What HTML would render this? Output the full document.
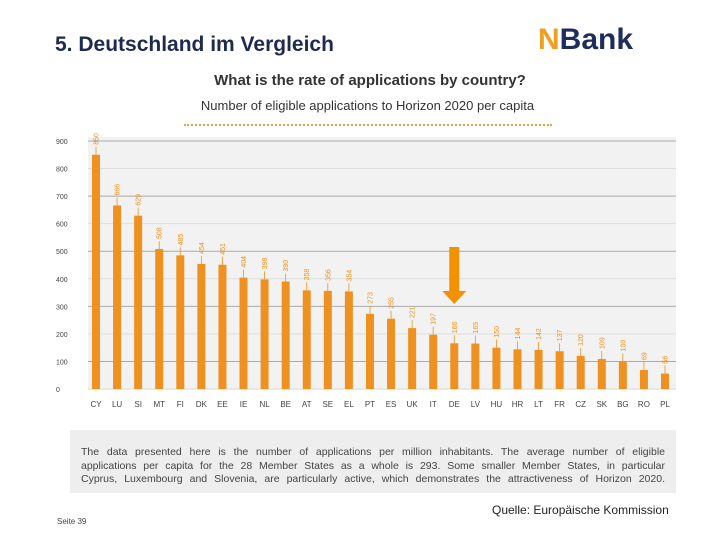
<!DOCTYPE html>
<html><head><meta charset="utf-8"><style>
body{margin:0;width:720px;height:540px;background:#fff;font-family:"Liberation Sans",sans-serif;position:relative;overflow:hidden}
.abs{position:absolute}
.dl{text-align:justify;text-align-last:justify;height:13.5px;white-space:nowrap}
</style></head><body>
<div class="abs" style="left:55px;top:33px;font-size:21px;font-weight:bold;color:#1f2a4f">5. Deutschland im Vergleich</div>
<div class="abs" style="left:538px;top:23px;font-size:30px;font-weight:bold"><span style="color:#f0a020">N</span><span style="color:#1e2d5a">Bank</span></div>
<div class="abs" style="left:0;width:740px;text-align:center;top:72px;font-size:15px;font-weight:bold;color:#333">What is the rate of applications by country?</div>
<div class="abs" style="left:0;width:735px;text-align:center;top:98px;font-size:13px;color:#333">Number of eligible applications to Horizon 2020 per capita</div>
<div class="abs" style="left:184px;top:124px;width:368px;border-top:2px dotted #e8a040"></div>
<svg class="abs" style="left:0;top:0" width="720" height="540">
<rect x="88" y="137" width="588" height="253" fill="#f2f2f2"/>
<g id="g"></g>
</svg>
<div class="abs" style="left:70px;top:430px;width:606px;height:63px;background:#eeeeee"></div>
<div class="abs" style="left:81px;top:446px;width:584px;font-size:10.5px;line-height:13.5px;color:#444">
<div class="dl">The data presented here is the number of applications per million inhabitants. The average number of eligible</div>
<div class="dl">applications per capita for the 28 Member States as a whole is 293. Some smaller Member States, in particular</div>
<div class="dl">Cyprus, Luxembourg and Slovenia, are particularly active, which demonstrates the attractiveness of Horizon 2020.</div>
</div>
<div class="abs" style="left:492px;top:503px;font-size:12px;color:#222">Quelle: Europäische Kommission</div>
<div class="abs" style="left:57px;top:517px;font-size:8px;color:#444">Seite 39</div>
<script>
const categories=["CY","LU","SI","MT","FI","DK","EE","IE","NL","BE","AT","SE","EL","PT","ES","UK","IT","DE","LV","HU","HR","LT","FR","CZ","SK","BG","RO","PL"];
const values=[850,666,629,508,485,454,451,404,398,390,358,356,354,273,255,221,197,166,165,150,144,142,137,120,109,100,69,56];
const yTicks=[0,100,200,300,400,500,600,700,800,900];
const g=document.getElementById('g');const NS='http://www.w3.org/2000/svg';
const y0=389,pxPer=(389-141)/900;
const y=v=>y0-v*pxPer;
const x=i=>96+i*(665-96)/27;
function mk(t,a){const e=document.createElementNS(NS,t);for(const k in a)e.setAttribute(k,a[k]);g.appendChild(e);return e;}
yTicks.forEach((t,i)=>{
 const l=mk('line',{x1:88,x2:676,y1:y(t),y2:y(t),stroke:i%2?'#aaa':'#ddd','stroke-width':1});
 
 
 const tx=mk('text',{x:56,y:y(t)+3,'font-size':7,fill:'#444','font-family':'Liberation Sans'});
 tx.textContent=t;
 
 
});
categories.forEach((c,i)=>{
 const v=values[i];
 const b=mk('rect',{x:x(i)-4,y:y(v),width:8,height:y0-y(v),fill:'#ef9121'});
 
 
 const ln=mk('line',{x1:x(i),x2:x(i),y1:y(v),y2:y(v)-8,stroke:'#ef9121','stroke-width':0.8});
 
 
 const vt=mk('text',{x:0,y:0,'font-size':7,fill:'#ef9121','font-family':'Liberation Sans',transform:`translate(${x(i)+2.5},${y(v)-10}) rotate(-90)`});
 vt.textContent=v;
 
 
 const ct=mk('text',{x:x(i),y:407,'font-size':8,fill:'#444','text-anchor':'middle','font-family':'Liberation Sans'});
 ct.textContent=c;
 
 
});
const di=categories.indexOf('DE');
const ar=mk('path',{d:`M${x(di)-5},247 h10 v44 h7 l-12,13 l-12,-13 h7 z`,fill:'#f39200'});


</script>
</body></html>
